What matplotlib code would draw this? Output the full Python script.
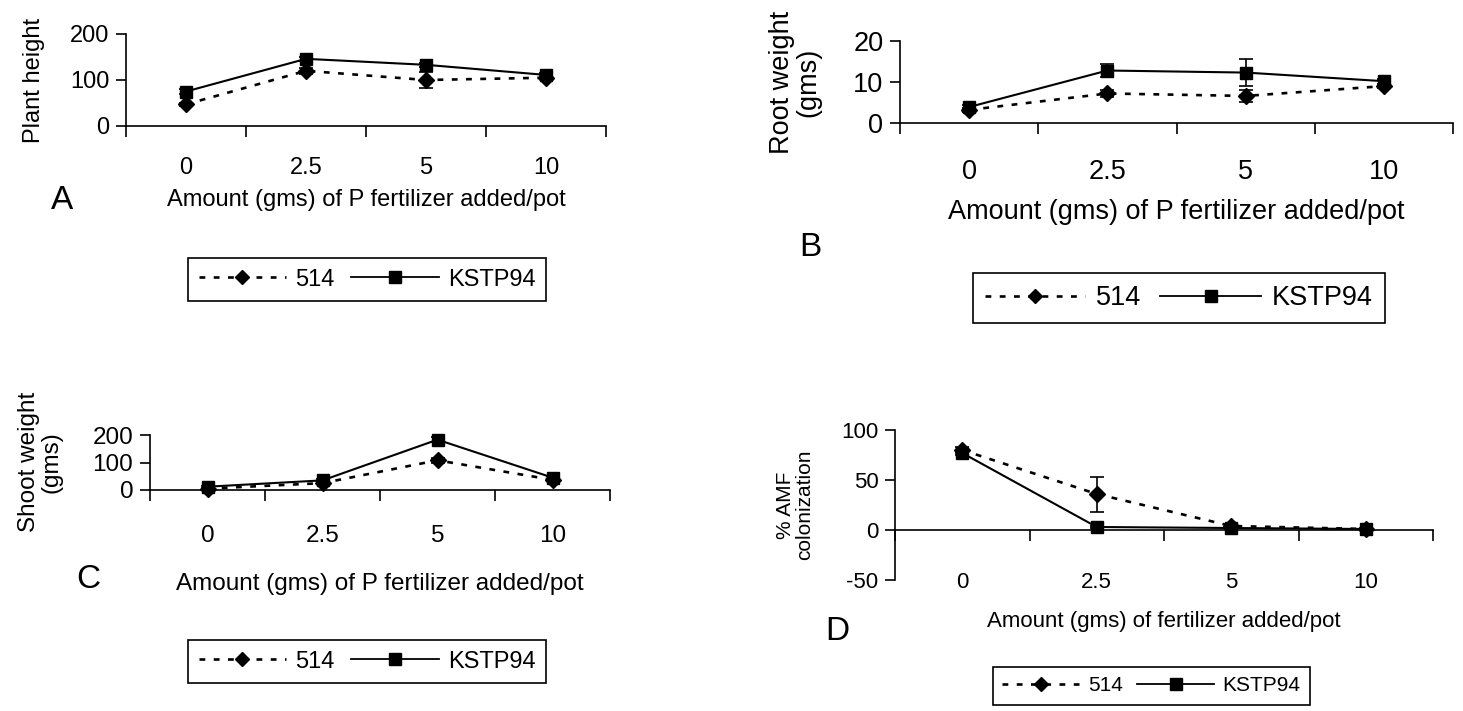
import matplotlib
matplotlib.use('Agg')
import matplotlib.pyplot as plt
from matplotlib.lines import Line2D

plt.rcParams['font.family'] = ['Liberation Sans', 'DejaVu Sans']
plt.rcParams['axes.unicode_minus'] = False

# categories (amount of P fertilizer, gms)
cats = ['0', '2.5', '5', '10']

# A - plant height
height_514 = [47, 120, 100, 105]
height_514_err = [4, 6, 17, 3]
height_k94 = [75, 146, 133, 111]
height_k94_err = [5, 5, 4, 4]

# B - root weight (gms)
root_514 = [3.2, 7.2, 6.6, 9.0]
root_514_err = [0.5, 0.8, 1.4, 0.5]
root_k94 = [3.9, 12.8, 12.3, 10.2]
root_k94_err = [0.6, 1.6, 3.2, 0.6]

# C - shoot weight (gms)
shoot_514 = [5, 25, 108, 37]
shoot_514_err = [2, 3, 8, 3]
shoot_k94 = [12, 35, 183, 45]
shoot_k94_err = [3, 5, 8, 5]

# D - % AMF colonization
amf_514 = [80, 36, 4, 1]
amf_514_err = [3, 17.5, 1, 0.5]
amf_k94 = [77, 3, 2, 1]
amf_k94_err = [2, 1, 1, 1]

W, H = 1463, 711
fig = plt.figure(figsize=(W / 100, H / 100), dpi=100)

DOTS = (0, (2.2, 3.2))


def rect(x0, x1, ytop, ybot):
    return [x0 / W, 1 - ybot / H, (x1 - x0) / W, (ybot - ytop) / H]


def panel(r, v1, e1, v2, e2, ylim, yticks, fs, pad, zero_spine=False):
    ax = fig.add_axes(r)
    x = list(range(len(cats)))
    ax.errorbar(x, v1, yerr=e1, color='black', ls=DOTS, lw=1.9,
                marker='D', ms=8, capsize=5, elinewidth=1.2, capthick=1.2,
                clip_on=False, zorder=3)
    ax.errorbar(x, v2, yerr=e2, color='black', ls='-', lw=1.5,
                marker='s', ms=9, capsize=5, elinewidth=1.2, capthick=1.2,
                clip_on=False, zorder=2)
    ax.set_xlim(-0.5, len(cats) - 0.5)
    ax.set_ylim(*ylim)
    ax.set_yticks(yticks)
    ax.set_xticks([i - 0.5 for i in range(len(cats) + 1)])
    ax.set_xticklabels([])
    ax.set_xticks(x, minor=True)
    ax.set_xticklabels(cats, minor=True)
    ax.tick_params(axis='x', which='major', direction='out', length=8, width=1.2)
    ax.tick_params(axis='x', which='minor', length=0, labelsize=fs, pad=pad)
    ax.tick_params(axis='y', direction='out', length=7, width=1.2, labelsize=fs, pad=5)
    for s in ['top', 'right']:
        ax.spines[s].set_visible(False)
    for s in ['left', 'bottom']:
        ax.spines[s].set_linewidth(1.2)
    if zero_spine:
        ax.spines['bottom'].set_position(('data', 0))
    return ax


def legend(x0, ytop, fs):
    h = [Line2D([], [], color='black', ls=DOTS, lw=1.9, marker='D', ms=7),
         Line2D([], [], color='black', ls='-', lw=1.3, marker='s', ms=8)]
    lg = fig.legend(h, ['514', 'KSTP94'], loc='upper left',
                    bbox_to_anchor=(x0 / W, 1 - ytop / H), ncol=2, fontsize=fs,
                    frameon=True, fancybox=False, edgecolor='black', framealpha=1,
                    handlelength=3.7, handletextpad=0.4, columnspacing=0.7,
                    borderpad=0.45, borderaxespad=0, numpoints=1)
    lg.get_frame().set_linewidth(1.2)


# A
panel(rect(126, 606, 34, 126), height_514, height_514_err, height_k94, height_k94_err,
      (0, 200), [0, 100, 200], 17, 22)
fig.text(34 / W, 1 - 80 / H, 'Plant height', rotation=90, ha='center', va='center', fontsize=17)
fig.text(366 / W, 1 - 200 / H, 'Amount (gms) of P fertilizer added/pot', ha='center', va='center', fontsize=17)
fig.text(62 / W, 1 - 200 / H, 'A', ha='center', va='center', fontsize=24)
legend(188, 258, 17)

# B
panel(rect(900, 1453, 41, 123), root_514, root_514_err, root_k94, root_k94_err,
      (0, 20), [0, 10, 20], 19.5, 26)
fig.text(795 / W, 1 - 82 / H, 'Root weight\n(gms)', rotation=90, ha='center', va='center',
         fontsize=19.5, multialignment='center', linespacing=1.0)
fig.text(1176 / W, 1 - 212 / H, 'Amount (gms) of P fertilizer added/pot', ha='center', va='center', fontsize=19.5)
fig.text(810 / W, 1 - 247 / H, 'B', ha='center', va='center', fontsize=24)
legend(973, 273, 19.5)

# C
panel(rect(150, 610, 435, 490), shoot_514, shoot_514_err, shoot_k94, shoot_k94_err,
      (0, 200), [0, 100, 200], 17.5, 25)
fig.text(40 / W, 1 - 462 / H, 'Shoot weight\n(gms)', rotation=90, ha='center', va='center',
         fontsize=17.5, multialignment='center', linespacing=1.0)
fig.text(380 / W, 1 - 584 / H, 'Amount (gms) of P fertilizer added/pot', ha='center', va='center', fontsize=17.5)
fig.text(88 / W, 1 - 580 / H, 'C', ha='center', va='center', fontsize=24)
legend(188, 640, 17)

# D
panel(rect(895, 1433, 430, 580), amf_514, amf_514_err, amf_k94, amf_k94_err,
      (-50, 100), [-50, 0, 50, 100], 16, 30, zero_spine=True)
fig.text(795 / W, 1 - 505 / H, '% AMF\ncolonization', rotation=90, ha='center', va='center',
         fontsize=15, multialignment='center', linespacing=1.0)
fig.text(1164 / W, 1 - 622 / H, 'Amount (gms) of fertilizer added/pot', ha='center', va='center', fontsize=16)
fig.text(837 / W, 1 - 632 / H, 'D', ha='center', va='center', fontsize=24)
legend(993, 667, 15)

fig.savefig('out.png', dpi=100)
